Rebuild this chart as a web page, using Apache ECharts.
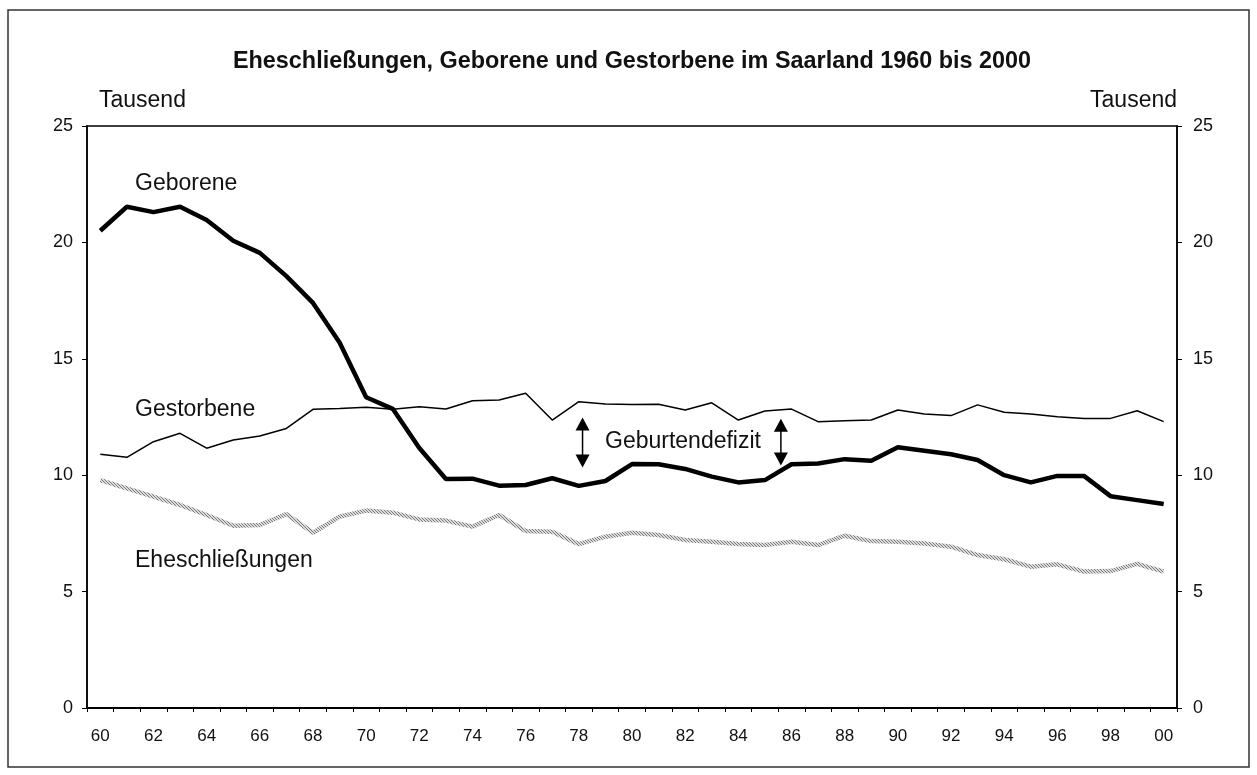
<!DOCTYPE html>
<html><head><meta charset="utf-8">
<script src="https://cdn.jsdelivr.net/npm/echarts@6/dist/echarts.min.js"></script>
<style>html,body{margin:0;padding:0;background:#fff}#c{width:1257px;height:775px}</style>
</head><body><div id="c"></div>
<script>
const years = ['60','61','62','63','64','65','66','67','68','69','70','71','72','73','74','75','76','77','78','79','80','81','82','83','84','85','86','87','88','89','90','91','92','93','94','95','96','97','98','99','00'];
const geborene = [20.5,21.53,21.3,21.53,20.96,20.07,19.55,18.55,17.4,15.7,13.35,12.85,11.17,9.84,9.85,9.55,9.58,9.87,9.54,9.75,10.48,10.47,10.27,9.94,9.69,9.79,10.47,10.5,10.69,10.62,11.2,11.05,10.9,10.65,10.0,9.69,9.97,9.97,9.1,8.93,8.76];
const gestorbene = [10.9,10.77,11.44,11.8,11.16,11.51,11.68,12.01,12.83,12.86,12.92,12.83,12.94,12.84,13.2,13.23,13.52,12.37,13.16,13.06,13.04,13.05,12.8,13.11,12.37,12.76,12.84,12.3,12.34,12.37,12.8,12.63,12.56,13.02,12.7,12.63,12.51,12.44,12.44,12.77,12.3];
const eheschliessungen = [9.79,9.43,9.08,8.72,8.29,7.83,7.86,8.33,7.53,8.22,8.48,8.39,8.1,8.05,7.79,8.29,7.6,7.57,7.04,7.36,7.53,7.43,7.22,7.14,7.04,7.0,7.14,7.0,7.4,7.17,7.14,7.07,6.93,6.57,6.39,6.07,6.17,5.86,5.88,6.19,5.86];
const yTicks = [0,5,10,15,20,25];
// arrow annotations: [category position, upper value, lower value]
const arrows = [[18.14,12.2,10.61],[25.6,12.15,10.7]];

const FONT = "'Liberation Sans', Arial, Helvetica, sans-serif";
const pc = document.createElement('canvas'); pc.width = 3; pc.height = 3;
const g = pc.getContext('2d');
g.fillStyle = '#dcdcdc'; g.fillRect(0,0,3,3);
g.fillStyle = '#7a7a7a'; g.fillRect(0,0,1,1); g.fillRect(1,1,1,1); g.fillRect(2,2,1,1);

const chart = echarts.init(document.getElementById('c'), null, {renderer:'canvas'});
function yAxisBase(pos, margin){
  return {
    type:'value', position:pos, min:yTicks[0], max:yTicks[yTicks.length-1], interval:5,
    axisLine:{show:true, onZero:false, lineStyle:{color:'#000', width:1.5}},
    axisTick:{show:true, length:5, lineStyle:{color:'#000', width:1}},
    splitLine:{show:false},
    axisLabel:{color:'#111', fontSize:18, fontFamily:FONT, margin:margin}
  };
}
const arrowSeries = arrows.map(a => ({
  type:'line', xAxisIndex:1, yAxisIndex:0, silent:true,
  data:[{value:[a[0],a[1]], symbolRotate:0},{value:[a[0],a[2]], symbolRotate:180}],
  symbol:'triangle', symbolSize:[14,13], showSymbol:true,
  lineStyle:{color:'#000', width:1.5}, itemStyle:{color:'#000'}, z:5
}));
chart.setOption({
  animation:false,
  backgroundColor:'#fff',
  grid:{left:87, right:80, top:126, bottom:67, show:true, borderColor:'#000', borderWidth:1.5, backgroundColor:'transparent'},
  xAxis:[{
    type:'category', data:years, boundaryGap:true,
    axisLine:{show:true, onZero:false, lineStyle:{color:'#000', width:2}},
    axisTick:{show:true, interval:0, length:4, lineStyle:{color:'#000', width:1}},
    axisLabel:{interval:1, color:'#111', fontSize:17, fontFamily:FONT, margin:20},
    splitLine:{show:false}
  },{
    type:'value', min:-0.5, max:40.5, show:false
  }],
  yAxis:[yAxisBase('left',14), yAxisBase('right',16)],
  series:[
    {name:'Eheschließungen', type:'line', data:eheschliessungen, symbol:'none', z:2,
     lineStyle:{width:4.5, color:{image:pc, repeat:'repeat'}}},
    {name:'Gestorbene', type:'line', data:gestorbene, symbol:'none', z:3,
     lineStyle:{width:1.5, color:'#000'}},
    {name:'Geborene', type:'line', data:geborene, symbol:'none', z:4,
     lineStyle:{width:4.5, color:'#000'}}
  ].concat(arrowSeries),
  graphic:[
    {type:'rect', shape:{x:8,y:10,width:1241,height:757}, style:{fill:'none', stroke:'#333', lineWidth:1.5}, silent:true},
    {type:'text', x:632, y:62, style:{text:'Eheschließungen, Geborene und Gestorbene im Saarland 1960 bis 2000', font:'bold 23.4px '+FONT, fill:'#111', align:'center', verticalAlign:'middle'}},
    {type:'text', x:99, y:101, style:{text:'Tausend', font:'23px '+FONT, fill:'#111', verticalAlign:'middle'}},
    {type:'text', x:1177, y:101, style:{text:'Tausend', font:'23px '+FONT, fill:'#111', verticalAlign:'middle', align:'right'}},
    {type:'text', x:135, y:184, style:{text:'Geborene', font:'23px '+FONT, fill:'#111', verticalAlign:'middle'}},
    {type:'text', x:135, y:410, style:{text:'Gestorbene', font:'23px '+FONT, fill:'#111', verticalAlign:'middle'}},
    {type:'text', x:135, y:561, style:{text:'Eheschließungen', font:'23px '+FONT, fill:'#111', verticalAlign:'middle'}},
    {type:'text', x:605, y:442, style:{text:'Geburtendefizit', font:'23px '+FONT, fill:'#111', verticalAlign:'middle'}}
  ]
});
</script></body></html>
